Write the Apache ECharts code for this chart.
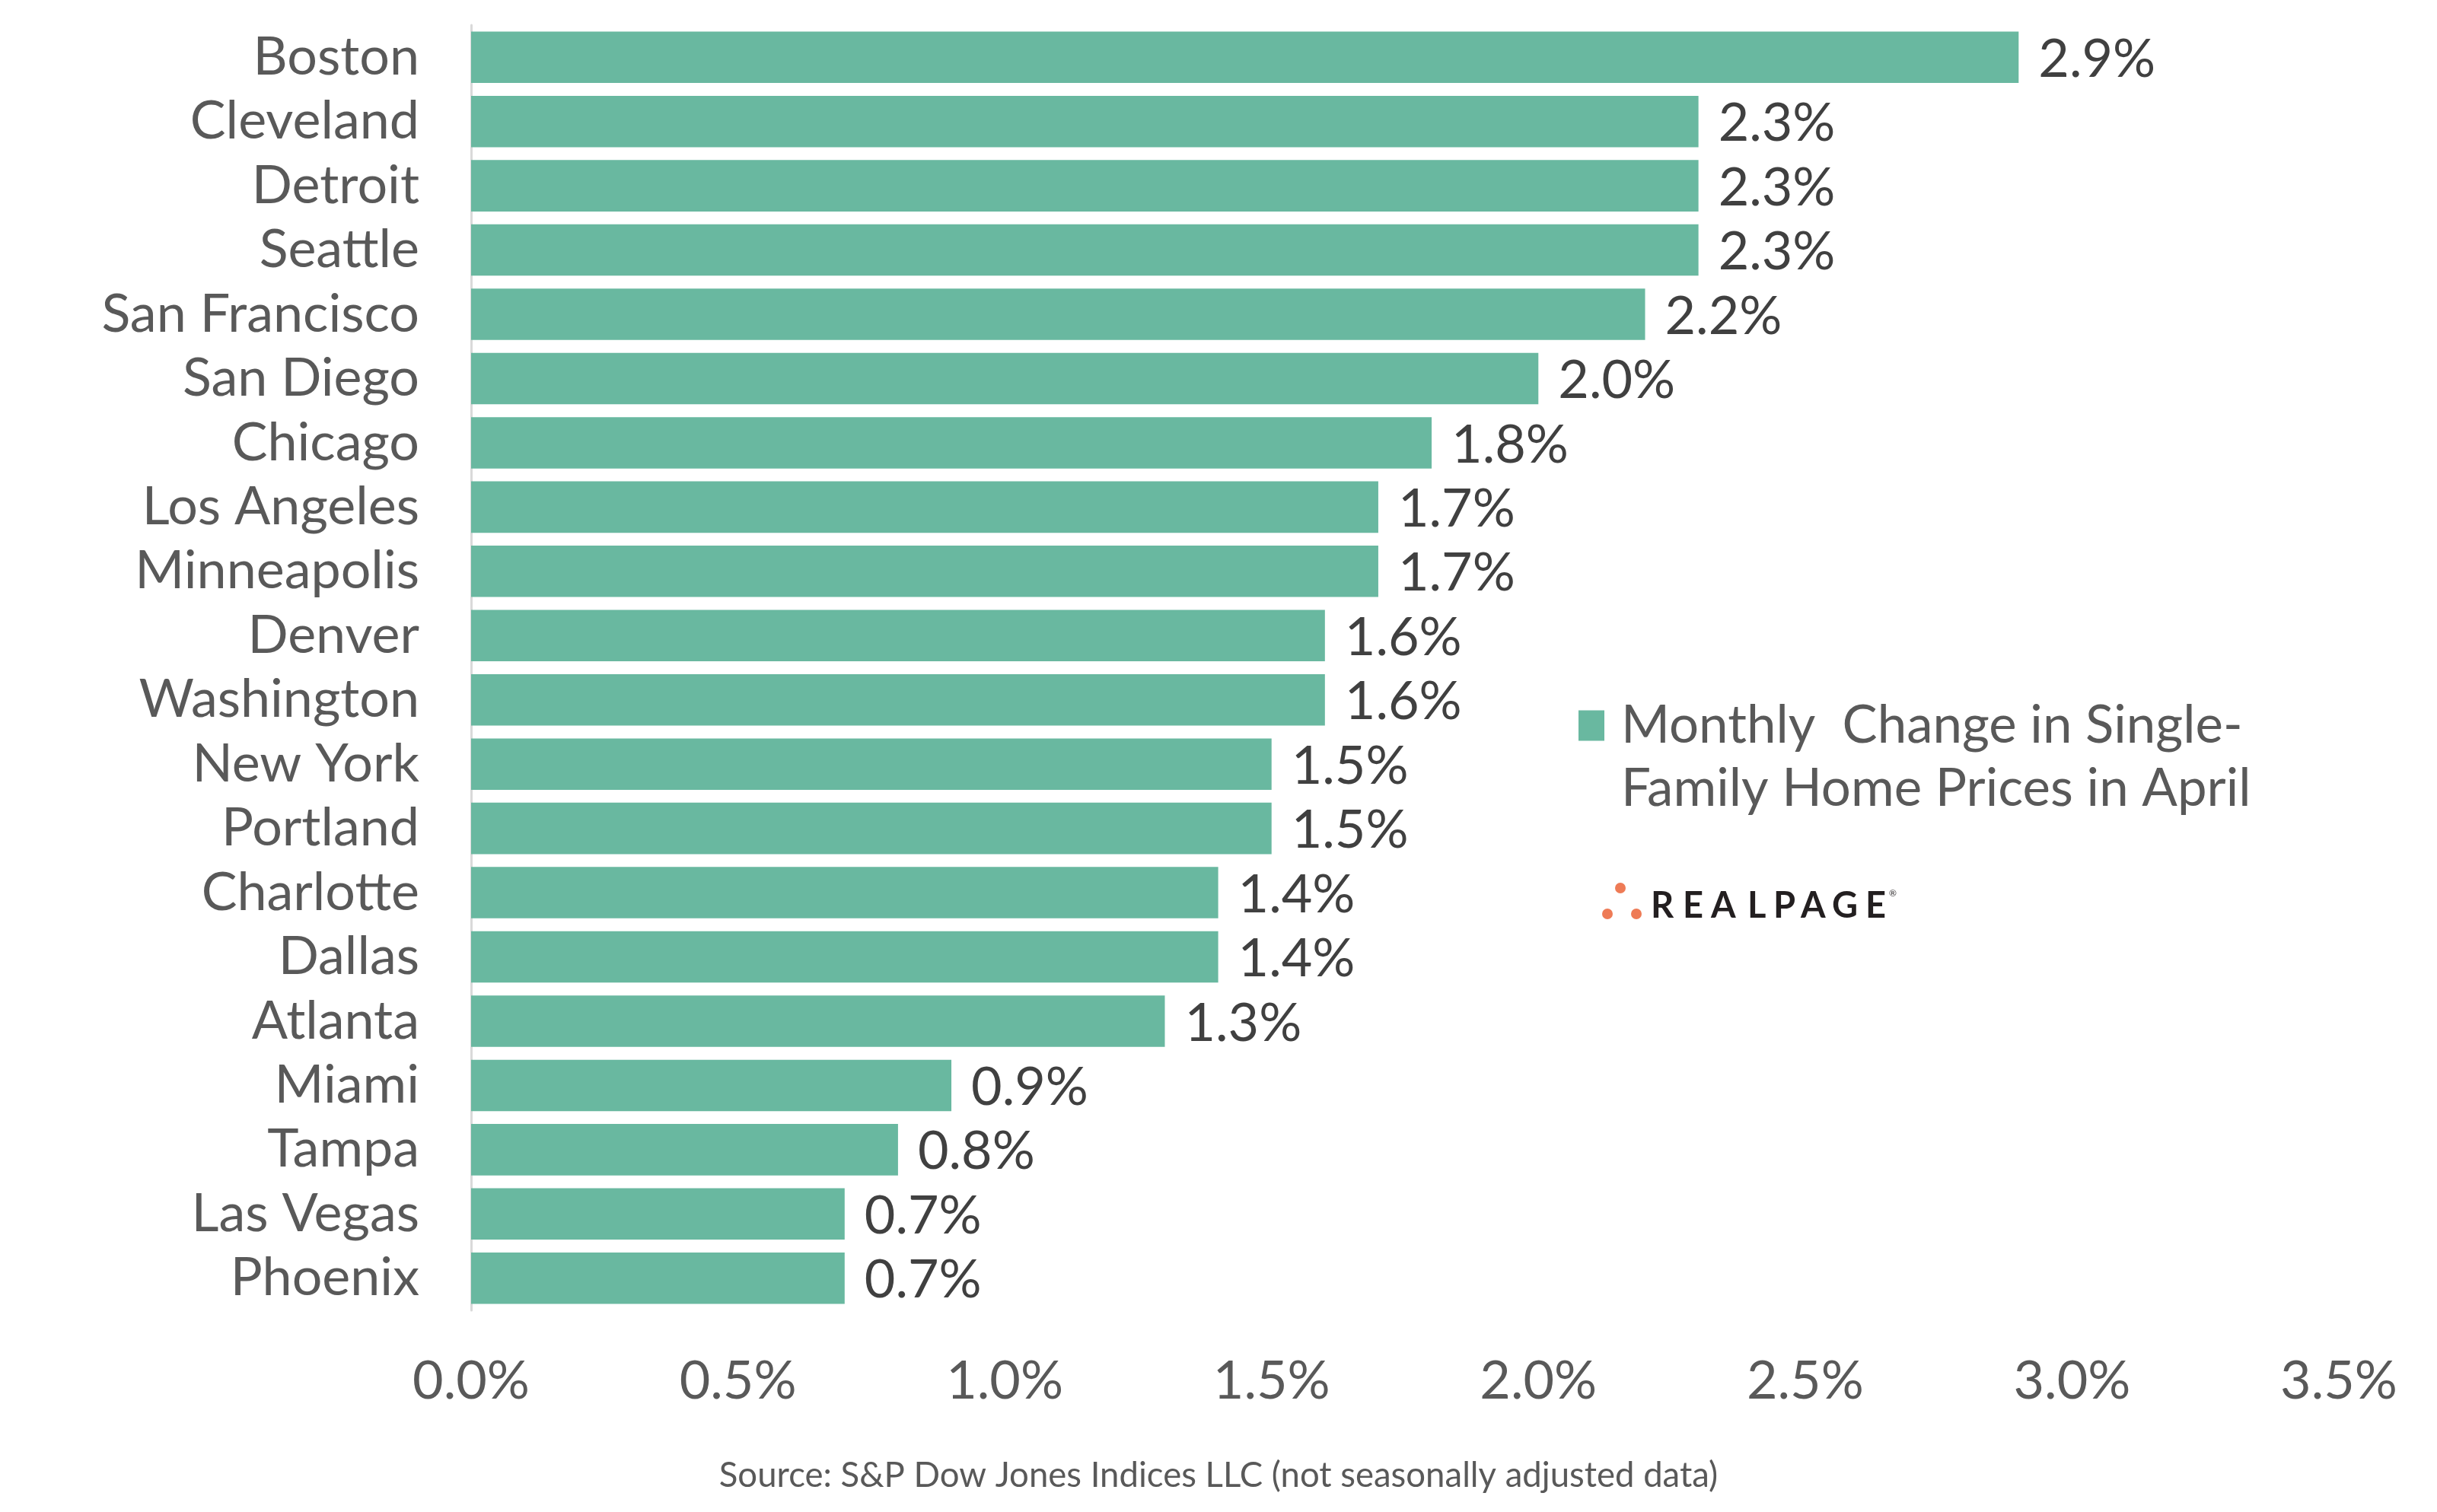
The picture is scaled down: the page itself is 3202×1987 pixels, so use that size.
<!DOCTYPE html>
<html>
<head>
<meta charset="utf-8">
<script src="https://cdn.jsdelivr.net/npm/echarts@6/dist/echarts.min.js"></script>
<style>
html,body{margin:0;padding:0;background:#fff;}
#chart{width:3202px;height:1987px;}
</style>
</head>
<body>
<div id="chart"></div>
<script>
const categories = ['Boston','Cleveland','Detroit','Seattle','San Francisco','San Diego','Chicago','Los Angeles','Minneapolis','Denver','Washington','New York','Portland','Charlotte','Dallas','Atlanta','Miami','Tampa','Las Vegas','Phoenix'];
const values = [2.9,2.3,2.3,2.3,2.2,2.0,1.8,1.7,1.7,1.6,1.6,1.5,1.5,1.4,1.4,1.3,0.9,0.8,0.7,0.7];
const seriesName = 'Monthly  Change in Single-Family Home Prices in April';
const legendLines = ['Monthly  Change in Single-', 'Family Home Prices in April'];
const xTicks = [0,0.5,1.0,1.5,2.0,2.5,3.0,3.5];
const sourceText = 'Source: S&P Dow Jones Indices LLC (not seasonally adjusted data)';
const logoLetters = ['R','E','A','L','P','A','G','E'];

const FONT = 'Lato, "Noto Sans", sans-serif';
const chart = echarts.init(document.getElementById('chart'));

const logoX = [2169,2211,2248,2296,2330,2366,2407,2451];
const logoGraphics = logoLetters.map((ch,i)=>({
  type:'text', left: logoX[i], top: 1167,
  style:{text:ch, font:'bold 47px ' + FONT, fill:'#231f20'}
}));

chart.setOption({
  backgroundColor:'#ffffff',
  animation:false,
  grid:{left:619, right:129, top:33, bottom:265, containLabel:false},
  legend:{
    show:true,
    left:2069, top:824,
    orient:'vertical',
    itemWidth:34, itemHeight:40,
    icon:'rect',
    data:[seriesName],
    formatter:()=>'\n' + legendLines.join('\n'),
    textStyle:{fontFamily:FONT, fontSize:69, color:'#595959', lineHeight:83, padding:[0,0,0,17]}
  },
  xAxis:{
    type:'value', min:0, max:3.5, interval:0.5,
    axisLine:{show:false}, axisTick:{show:false}, splitLine:{show:false},
    axisLabel:{fontFamily:FONT, fontSize:70, color:'#595959', margin:58,
      formatter:(v)=>v.toFixed(1)+'%'}
  },
  yAxis:{
    type:'category', data:categories, inverse:true,
    axisLine:{show:true, lineStyle:{color:'#d9d9d9', width:3}},
    axisTick:{show:false},
    axisLabel:{fontFamily:FONT, fontSize:70, color:'#595959', margin:68, interval:0}
  },
  series:[{
    name:seriesName,
    type:'bar',
    data:values,
    barCategoryGap:'20%',
    itemStyle:{color:'#69b8a0'},
    label:{show:true, position:'right', distance:26, offset:[0,3], fontFamily:FONT, fontSize:70, color:'#404040',
      formatter:(p)=>p.value.toFixed(1)+'%'}
  }],
  graphic:[
    {type:'text', left:'center', top:1916,
      style:{text:sourceText, font:'45.5px ' + FONT, fill:'#595959'}},
    {type:'circle', shape:{cx:2129, cy:1167, r:7}, style:{fill:'#ee7b56'}},
    {type:'circle', shape:{cx:2112, cy:1201, r:7}, style:{fill:'#ee7b56'}},
    {type:'circle', shape:{cx:2150, cy:1201, r:7}, style:{fill:'#ee7b56'}},
    ...logoGraphics,
    {type:'text', left:2482, top:1168, style:{text:'®', font:'12px ' + FONT, fill:'#231f20'}}
  ]
});
</script>
</body>
</html>
